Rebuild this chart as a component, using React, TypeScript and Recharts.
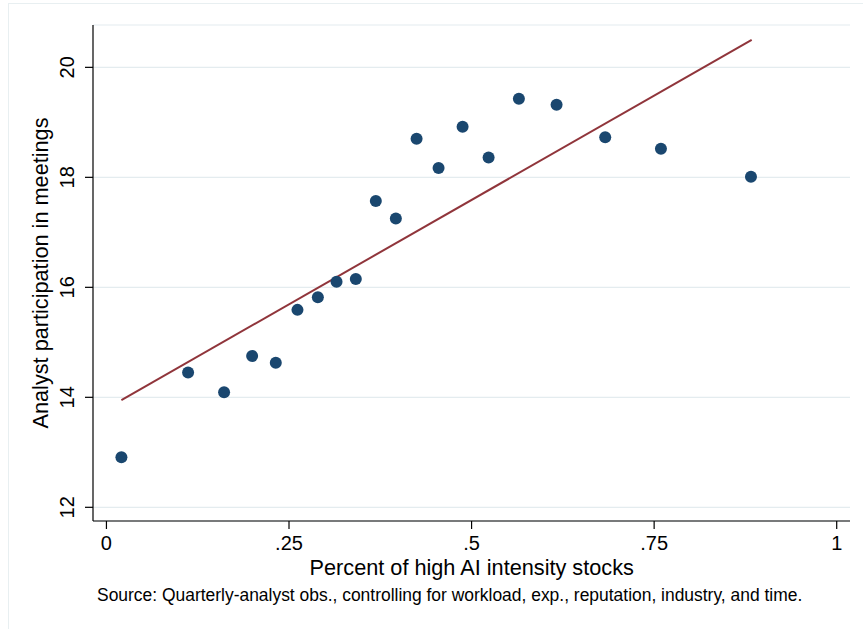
import React from 'react';
import { ScatterChart, Scatter, XAxis, YAxis, CartesianGrid } from 'recharts';

const binX = [0.0205, 0.1118, 0.1611, 0.1995, 0.2319, 0.2616, 0.2895, 0.3151, 0.3415, 0.3689, 0.3963, 0.4247, 0.4548, 0.4877, 0.5233, 0.5648, 0.6164, 0.683, 0.7593, 0.8826];
const binY = [12.91, 14.45, 14.09, 14.75, 14.63, 15.59, 15.82, 16.1, 16.15, 17.57, 17.25, 18.7, 18.17, 18.92, 18.36, 19.43, 19.32, 18.73, 18.52, 18.01];
const fitX = [0.0205, 0.8836];
const fitY = [13.95, 20.5];
const xTicks = [0, 0.25, 0.5, 0.75, 1];
const xTickLabels = ['0', '.25', '.5', '.75', '1'];
const yTicks = [12, 14, 16, 18, 20];
const yTickLabels = ['12', '14', '16', '18', '20'];
const xTitle = 'Percent of high AI intensity stocks';
const yTitle = 'Analyst participation in meetings';
const note = 'Source: Quarterly-analyst obs., controlling for workload, exp., reputation, industry, and time.';

const points = binX.map((x, i) => ({ x, y: binY[i] }));
const fit = fitX.map((x, i) => ({ x, y: fitY[i] }));

const FONT = '"Liberation Sans", Arial, Helvetica, sans-serif';
const W = 863;
const H = 629;

const XTick = (props: any) => {
  const { x, payload } = props;
  const idx = xTicks.indexOf(payload.value);
  return (
    <text x={x} y={550} textAnchor="middle" fontFamily={FONT} fontSize={20} fill="#000">
      {idx >= 0 ? xTickLabels[idx] : payload.value}
    </text>
  );
};

const YTick = (props: any) => {
  const { y, payload } = props;
  const idx = yTicks.indexOf(payload.value);
  return (
    <text x={74} y={y} transform={`rotate(-90, 74, ${y})`} textAnchor="middle" fontFamily={FONT} fontSize={20} fill="#000">
      {idx >= 0 ? yTickLabels[idx] : payload.value}
    </text>
  );
};

const Dot = (props: any) => {
  const { cx, cy } = props;
  return <circle cx={cx} cy={cy} r={6} fill="#1a476f" />;
};

const NoShape = () => <g />;

export default function App() {
  return (
    <div style={{ position: 'absolute', left: 0, top: 0, width: W, height: H, overflow: 'hidden', background: '#fff' }}>
      <div style={{ position: 'absolute', left: 8, top: 3, width: 900, height: 700, borderLeft: '1px solid #e8eff1', borderTop: '1px solid #e8eff1' }} />
      <div style={{ position: 'absolute', left: 0, top: 0 }}>
        <ScatterChart width={W} height={H} margin={{ top: 25, right: 13, bottom: 0, left: 0 }}>
          <CartesianGrid vertical={false} stroke="#e4ecef" strokeWidth={1.2} />
          <XAxis
            type="number"
            dataKey="x"
            domain={[-0.0184, 1.0182]}
            ticks={xTicks}
            height={108}
            tickSize={8}
            axisLine={{ stroke: '#000', strokeWidth: 1.2 }}
            tickLine={{ stroke: '#000', strokeWidth: 1.2 }}
            tick={<XTick />}
            interval={0}
            allowDataOverflow
          />
          <YAxis
            type="number"
            dataKey="y"
            domain={[11.751, 20.77]}
            ticks={yTicks}
            width={93}
            tickSize={8}
            axisLine={{ stroke: '#000', strokeWidth: 1.2 }}
            tickLine={{ stroke: '#000', strokeWidth: 1.2 }}
            tick={<YTick />}
            interval={0}
            allowDataOverflow
          />
          <Scatter data={fit} line={{ stroke: '#90353b', strokeWidth: 2 }} shape={<NoShape />} isAnimationActive={false} />
          <Scatter data={points} shape={<Dot />} isAnimationActive={false} />
        </ScatterChart>
      </div>
      <svg width={W} height={H} style={{ position: 'absolute', left: 0, top: 0, pointerEvents: 'none' }}>
        <text x={471.7} y={575} textAnchor="middle" fontFamily={FONT} fontSize={21.7} fill="#000">{xTitle}</text>
        <text x={48} y={273} transform="rotate(-90, 48, 273)" textAnchor="middle" fontFamily={FONT} fontSize={21.7} fill="#000">{yTitle}</text>
        <text x={97} y={601} textAnchor="start" fontFamily={FONT} fontSize={17.45} fill="#000">{note}</text>
      </svg>
    </div>
  );
}
